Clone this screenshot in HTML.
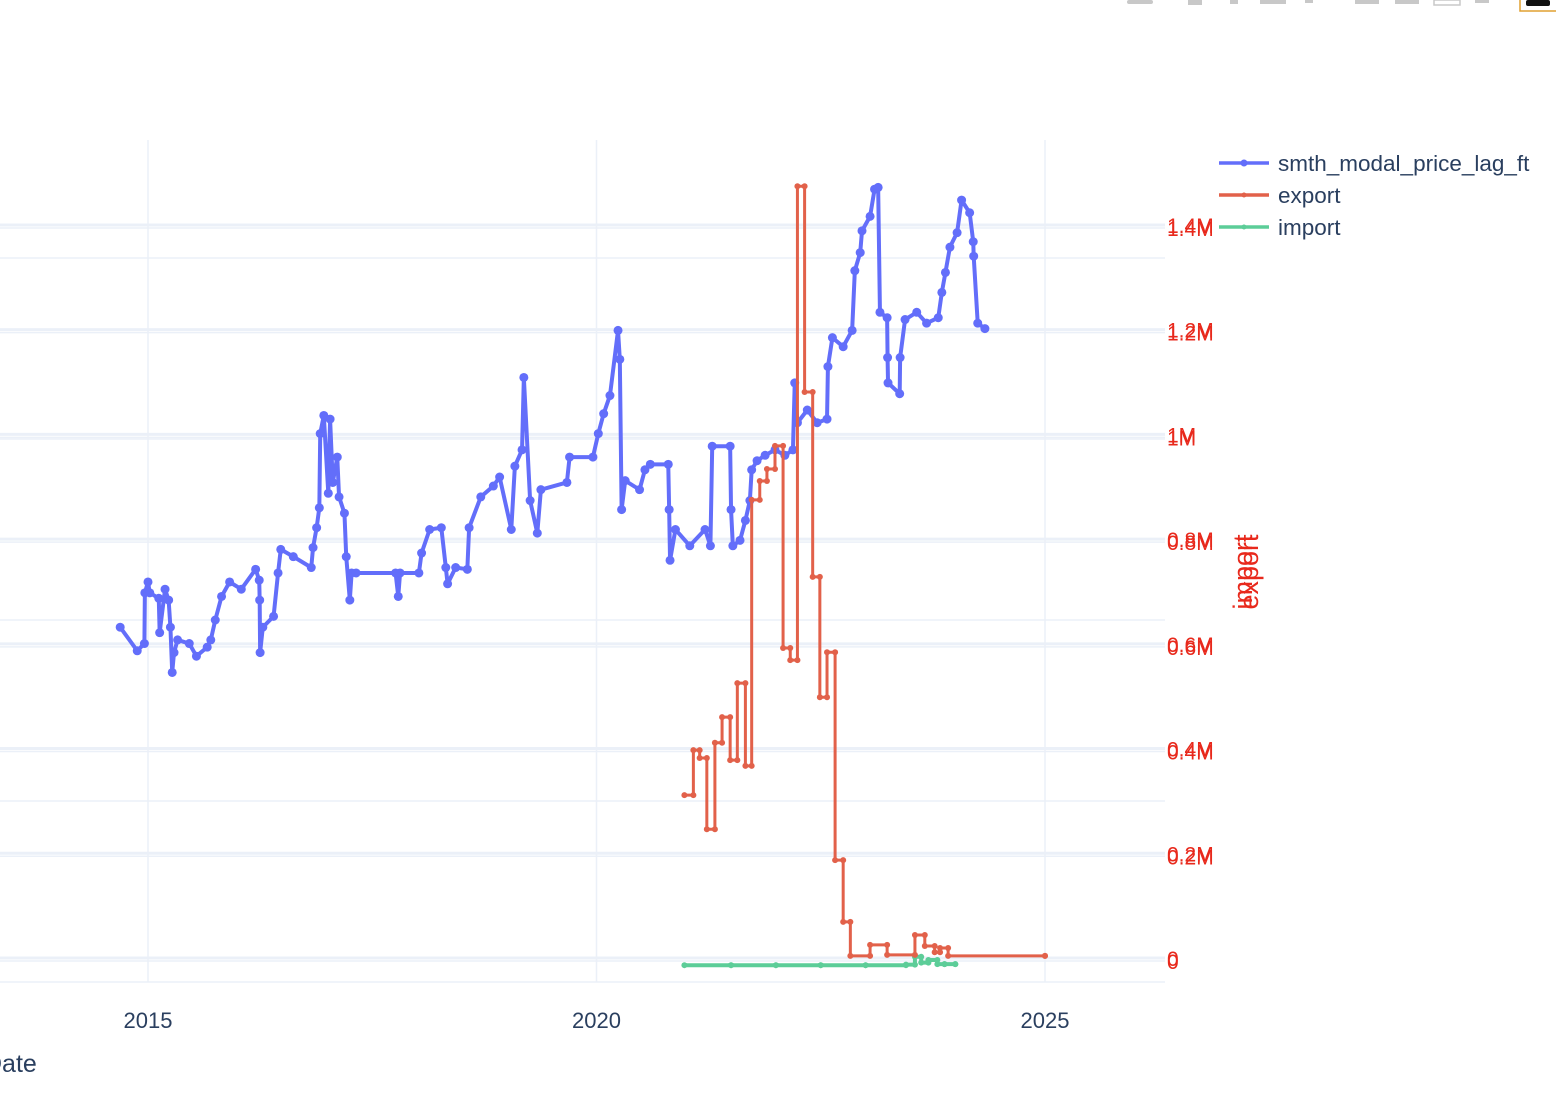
<!DOCTYPE html>
<html><head><meta charset="utf-8">
<style>
html,body{margin:0;padding:0;background:#fff;width:1556px;height:1120px;overflow:hidden;}
svg text{font-family:"Liberation Sans",Arial,sans-serif;}
</style></head>
<body>
<svg id="chart" width="1556" height="1120" viewBox="0 0 1556 1120" xmlns="http://www.w3.org/2000/svg">
  <g id="modebar" fill="#c8c8c8">
    <rect x="1127" y="0" width="26" height="4" rx="2"/>
    <rect x="1188" y="0" width="14" height="5"/>
    <rect x="1230" y="0" width="8" height="4"/>
    <rect x="1260" y="0" width="26" height="4"/>
    <rect x="1305" y="0" width="8" height="3"/>
    <rect x="1355" y="0" width="24" height="4"/>
    <rect x="1395" y="0" width="24" height="4"/>
    <rect x="1434" y="0" width="26" height="5" fill="none" stroke="#c8c8c8" stroke-width="1.5"/>
    <rect x="1475" y="0" width="14" height="3"/>
    <rect x="1520" y="-2" width="40" height="13" fill="#fff" stroke="#e0a030" stroke-width="1.5"/>
    <rect x="1526" y="0" width="24" height="6" rx="2" fill="#111"/>
  </g>
  <g id="grid"></g>
  <g id="plot"></g>
  <g id="axes"></g>
</svg>
<script>
// ---- data ----
const priceDates = [
2014.69,2014.88,2014.96,2014.965,2015.00,2015.02,2015.12,2015.13,2015.19,2015.23,
2015.25,2015.27,2015.29,2015.33,2015.46,2015.54,2015.66,2015.70,2015.75,2015.82,
2015.91,2016.04,2016.20,2016.24,2016.245,2016.25,2016.28,2016.40,2016.45,2016.48,
2016.62,2016.82,2016.84,2016.88,2016.91,2016.92,2016.96,2017.01,2017.03,2017.06,
2017.11,2017.13,2017.19,2017.21,2017.25,2017.27,2017.32,2017.76,2017.79,2017.81,
2018.02,2018.05,2018.14,2018.27,2018.32,2018.34,2018.43,2018.56,2018.58,2018.71,
2018.85,2018.92,2019.05,2019.09,2019.17,2019.19,2019.26,2019.34,2019.38,2019.67,
2019.70,2019.96,2020.02,2020.08,2020.15,2020.24,2020.26,2020.28,2020.32,2020.48,
2020.54,2020.60,2020.80,2020.81,2020.82,2020.88,2021.04,2021.21,2021.27,2021.29,
2021.49,2021.50,2021.52,2021.60,2021.66,2021.71,2021.73,2021.79,2021.88,2021.99,
2022.10,2022.19,2022.21,2022.24,2022.35,2022.46,2022.57,2022.58,2022.63,2022.75,
2022.85,2022.88,2022.94,2022.96,2023.05,2023.10,2023.14,2023.16,2023.24,2023.245,
2023.25,2023.38,2023.385,2023.44,2023.57,2023.68,2023.81,2023.85,2023.89,2023.94,
2024.02,2024.07,2024.16,2024.20,2024.205,2024.25,2024.33];
const priceValues = [
5960,5830,5870,6150,6210,6150,6120,5930,6170,6110,
5960,5710,5820,5890,5870,5800,5850,5890,6000,6130,
6210,6170,6280,6220,6110,5820,5960,6020,6260,6390,
6350,6290,6400,6510,6620,7030,7130,6700,7110,6760,
6900,6680,6590,6350,6110,6260,6260,6260,6130,6260,
6260,6370,6500,6510,6290,6200,6290,6280,6510,6680,
6740,6790,6500,6850,6940,7340,6660,6480,6720,6760,
6900,6900,7030,7140,7240,7600,7440,6610,6770,6720,
6830,6860,6860,6610,6330,6500,6410,6500,6410,6960,
6960,6610,6410,6440,6550,6660,6830,6880,6910,6940,
6910,6940,7310,7090,7160,7090,7110,7400,7560,7510,
7600,7930,8030,8150,8230,8380,8390,7700,7670,7450,
7310,7250,7450,7660,7700,7640,7670,7810,7920,8060,
8140,8320,8250,8090,8010,7640,7610];
const exportDates = [2020.98,2021.08,2021.15,2021.23,2021.32,2021.40,2021.49,2021.57,2021.66,2021.73,2021.82,2021.90,2021.99,2022.08,2022.16,2022.24,2022.32,2022.41,2022.49,2022.57,2022.66,2022.75,2022.83,2023.05,2023.24,2023.55,2023.66,2023.77,2023.83,2023.92,2025.00];
const exportValues = [0.311,0.397,0.382,0.246,0.411,0.460,0.378,0.525,0.367,0.875,0.911,0.934,0.978,0.592,0.569,1.474,1.081,0.728,0.498,0.584,0.187,0.069,0.004,0.025,0.006,0.044,0.023,0.011,0.019,0.004,0.004];
const importDates = [2020.98,2021.5,2022.0,2022.5,2023.0,2023.45,2023.55,2023.62,2023.70,2023.80,2023.88,2024.00];
const importValues = [-0.008,-0.008,-0.008,-0.008,-0.008,-0.007,0.008,-0.003,0.002,-0.006,-0.006,-0.006];
const xTicks = [2015,2020,2025];
const rightTicks = [0,0.2,0.4,0.6,0.8,1.0,1.2,1.4];
const rightTickLabels = ["0","0.2M","0.4M","0.6M","0.8M","1M","1.2M","1.4M"];
const leftGrid = [4000,5000,6000,7000,8000];

// ---- scales ----
const PL=0, PR=1165, PT=140, PB=982;
const xs = y => 148 + (y-2015)*89.7;
const yLeft = v => 982 - (v-4000)*0.181;
const yExp = v => 958 - v*523.6;
const yImp = v => 961 - v*523.6;
const NS="http://www.w3.org/2000/svg";
function mk(tag, attrs, parent){const e=document.createElementNS(NS,tag);for(const k in attrs)e.setAttribute(k,attrs[k]);parent.appendChild(e);return e;}
const grid=document.getElementById('grid'), plot=document.getElementById('plot'), axes=document.getElementById('axes');

xTicks.forEach(t=>{
  const l=mk('line',{x1:xs(t),x2:xs(t),y1:PT,y2:PB,stroke:'#ebf0f8','stroke-width':1.5},grid);
  
  
});
leftGrid.forEach(v=>{
  const l=mk('line',{x1:PL,x2:PR,y1:yLeft(v),y2:yLeft(v),stroke:'#ebf0f8','stroke-width':1.5},grid);
  
  
});
rightTicks.forEach(v=>{
  const l=mk('line',{x1:PL,x2:PR,y1:yExp(v),y2:yExp(v),stroke:'#ebf0f8','stroke-width':3},grid);
  
  
  const l2=mk('line',{x1:PL,x2:PR,y1:yImp(v),y2:yImp(v),stroke:'#ebf0f8','stroke-width':1.5},grid);
  
  
});

function series(dates, vals, yf, color, name, step, r, w){
  const g=mk('g',{},plot);
  
  
  let d='';
  for(let i=0;i<dates.length;i++){
    const x=xs(dates[i]), y=yf(vals[i]);
    if(i===0) d+='M'+x+' '+y;
    else if(step){ d+=' H'+x+' V'+y; }
    else d+=' L'+x+' '+y;
  }
  const p=mk('path',{d:d,fill:'none',stroke:color,'stroke-width':w,'stroke-linejoin':'round'},g);
  
  
  for(let i=0;i<dates.length;i++){
    const y=yf(vals[i]);
    const c=mk('circle',{cx:xs(dates[i]),cy:y,r:r,fill:color},g);
    
    
    if(step && i<dates.length-1){
      const c2=mk('circle',{cx:xs(dates[i+1]),cy:y,r:r,fill:color},g);
      
      
    }
  }
}
series(priceDates, priceValues, yLeft, '#636efa', 'price', false, 4.5, 4);
series(importDates, importValues, yImp, '#5ccd98', 'import', true, 3, 4);
series(exportDates, exportValues, yExp, '#e2614a', 'export', true, 3, 3);

xTicks.forEach(t=>{
  const tx=mk('text',{x:xs(t),y:1028,'text-anchor':'middle','font-size':22,fill:'#2a3f5f'},axes);
  tx.textContent=String(t);
  
  
});
rightTicks.forEach((v,i)=>{
  const tx=mk('text',{x:1167,y:yExp(v)+8,'font-size':21,fill:'#e8291c'},axes);
  tx.textContent=rightTickLabels[i];
  
  
  const t2=mk('text',{x:1167,y:yImp(v)+8,'font-size':21,fill:'#e8291c'},axes);
  t2.textContent=rightTickLabels[i];
  
  
});
</script>
<svg style="position:absolute;left:0;top:0" width="1556" height="1120">
  <rect x="1212" y="140" width="344" height="100" fill="#fff"/>
  <text x="-16" y="1072" font-size="25" fill="#2a3f5f" font-family="Liberation Sans, sans-serif">Date</text>
  <text transform="translate(1252,572) rotate(-90)" text-anchor="middle" font-size="27" fill="#e8291c" font-family="Liberation Sans, sans-serif">import</text>
  <text transform="translate(1258,572) rotate(-90)" text-anchor="middle" font-size="27" fill="#e8291c" font-family="Liberation Sans, sans-serif">export</text>
  <g>
    <line x1="1219" x2="1269" y1="163" y2="163" stroke="#636efa" stroke-width="3.5"/><circle cx="1244" cy="163" r="3.5" fill="#636efa"/>
    <text x="1278" y="171" font-size="22.5" fill="#2a3f5f" font-family="Liberation Sans, sans-serif">smth_modal_price_lag_ft</text>
  </g>
  <g>
    <line x1="1219" x2="1269" y1="195" y2="195" stroke="#e2614a" stroke-width="3.5"/><circle cx="1244" cy="195" r="2.5" fill="#e2614a"/>
    <text x="1278" y="203" font-size="22.5" fill="#2a3f5f" font-family="Liberation Sans, sans-serif">export</text>
  </g>
  <g>
    <line x1="1219" x2="1269" y1="227" y2="227" stroke="#5ccd98" stroke-width="3.5"/><circle cx="1244" cy="227" r="2.5" fill="#5ccd98"/>
    <text x="1278" y="235" font-size="22.5" fill="#2a3f5f" font-family="Liberation Sans, sans-serif">import</text>
  </g>
</svg>
</body></html>
